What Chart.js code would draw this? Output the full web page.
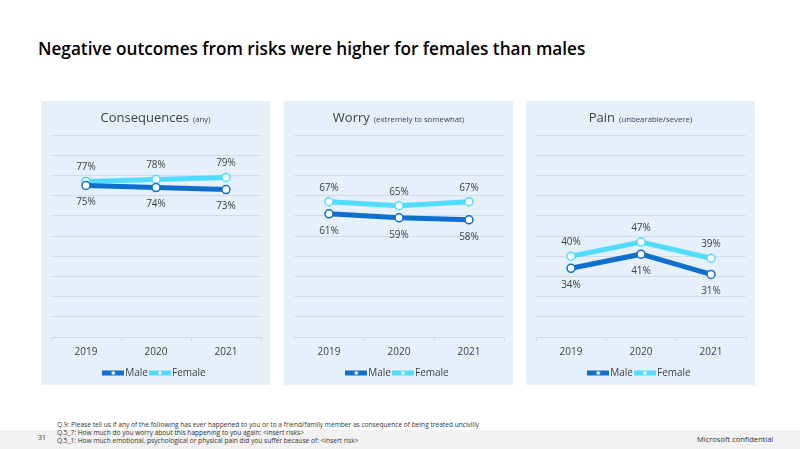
<!DOCTYPE html>
<html>
<head>
<meta charset="utf-8">
<script src="https://cdn.jsdelivr.net/npm/chart.js@4.4.0/dist/chart.umd.min.js"></script>
<style>
    body { margin: 0; width: 800px; height: 449px; position: relative; background: #fff; font-family: "Open Sans", sans-serif; overflow: hidden; }
    .headline { position: absolute; left: 38px; top: 37px; font-size: 17.2px; font-weight: 600; color: #000; }
    .panel { position: absolute; top: 101px; width: 229px; height: 284px; background: #e6f0fa; overflow: hidden; }
    .panel canvas { position: absolute; left: 0; top: 0; }
    .ptitle { position: absolute; left: 0; width: 100%; top: 7px; text-align: center; font-size: 13px; color: #404040; z-index: 2; }
    .ptitle small { font-size: 7.8px; margin-left: 4px; }
    .footband { position: absolute; left: 0; top: 430px; width: 800px; height: 19px; background: #f2f2f2; }
    .notes { position: absolute; left: 57px; top: 421px; font-size: 6.6px; line-height: 8px; color: #333; white-space: nowrap; }
    .pagenum { position: absolute; left: 38px; top: 433px; font-size: 7px; color: #333; }
    .conf { position: absolute; left: 697px; top: 434px; font-size: 7.5px; color: #333; }
</style>
</head>
<body>
<div class="headline">Negative outcomes from risks were higher for females than males</div>

<div class="panel" style="left:41px"><div class="ptitle">Consequences<small>(any)</small></div><canvas id="c1"></canvas></div>
<div class="panel" style="left:284px"><div class="ptitle">Worry<small>(extremely to somewhat)</small></div><canvas id="c2"></canvas></div>
<div class="panel" style="left:526px"><div class="ptitle">Pain<small>(unbearable/severe)</small></div><canvas id="c3"></canvas></div>

<div class="footband"></div>
<div class="notes">Q.9: Please tell us if any of the following has ever happened to you or to a friend/family member as consequence of being treated uncivilly<br>Q.5_7: How much do you worry about this happening to you again: &lt;insert risks&gt;<br>Q.5_1: How much emotional, psychological or physical pain did you suffer because of: &lt;insert risk&gt;</div>
<div class="pagenum">31</div>
<div class="conf">Microsoft confidential</div>

<script>
// Chart data
const years = ['2019', '2020', '2021'];
const consequencesMale = [75, 74, 73];
const consequencesFemale = [77, 78, 79];
const worryMale = [61, 59, 58];
const worryFemale = [67, 65, 67];
const painMale = [34, 41, 31];
const painFemale = [40, 47, 39];

const maleColor = '#0f6fcd';
const femaleColor = '#50dcff';

// legend marker: thick line with a small white dot
function legendMarker(color) {
    const c = document.createElement('canvas');
    c.width = 22; c.height = 10;
    const ctx = c.getContext('2d');
    ctx.strokeStyle = color;
    ctx.lineWidth = 5;
    ctx.beginPath(); ctx.moveTo(0, 5); ctx.lineTo(22, 5); ctx.stroke();
    ctx.fillStyle = '#fff';
    ctx.beginPath(); ctx.arc(11, 5, 1.8, 0, Math.PI * 2); ctx.fill();
    return c;
}

// percent labels: female above, male below
const valueLabels = {
    id: 'valueLabels',
    afterDatasetsDraw(chart) {
        const ctx = chart.ctx;
        ctx.save();
        ctx.font = '10px "Open Sans", sans-serif';
        ctx.fillStyle = '#404040';
        ctx.textAlign = 'center';
        ctx.textBaseline = 'middle';
        chart.data.datasets.forEach(function(ds, i) {
            const meta = chart.getDatasetMeta(i);
            const above = ds.label === 'Female';
            meta.data.forEach(function(pt, j) {
                ctx.fillText(ds.data[j] + '%', pt.x, above ? pt.y - 14 : pt.y + 17);
            });
        });
        ctx.restore();
    }
};

function makeChart(id, male, female) {
    const canvas = document.getElementById(id);
    canvas.width = 229; canvas.height = 287;
    return new Chart(canvas, {
        type: 'line',
        data: {
            labels: years,
            datasets: [
                { label: 'Male', data: male, borderColor: maleColor, backgroundColor: '#fff', borderWidth: 5,
                  pointRadius: 4, pointBorderWidth: 1.5, pointBackgroundColor: '#fff', pointBorderColor: maleColor,
                  pointStyle: 'circle' },
                { label: 'Female', data: female, borderColor: femaleColor, backgroundColor: '#fff', borderWidth: 5,
                  pointRadius: 4, pointBorderWidth: 1.5, pointBackgroundColor: '#fff', pointBorderColor: femaleColor,
                  pointStyle: 'circle' }
            ]
        },
        options: {
            responsive: false,
            animation: false,
            layout: { padding: { left: 10, right: 9, top: 34, bottom: 0 } },
            scales: {
                x: {
                    offset: true,
                    grid: { drawOnChartArea: false, drawTicks: true, tickLength: 4, color: '#d0d7df', offset: true },
                    border: { color: '#d0d7df' },
                    ticks: { color: '#404040', font: { family: 'Open Sans', size: 10 }, padding: 5 }
                },
                y: {
                    min: 0, max: 100,
                    ticks: { display: false, stepSize: 10 },
                    grid: { color: '#d3dbe4', drawTicks: false },
                    border: { display: false }
                }
            },
            plugins: {
                tooltip: { enabled: false },
                legend: {
                    position: 'bottom',
                    labels: {
                        usePointStyle: true,
                        pointStyleWidth: 14,
                        padding: 5,
                        color: '#404040',
                        font: { family: 'Open Sans', size: 10 },
                        generateLabels: function(chart) {
                            return chart.data.datasets.map(function(ds, i) {
                                return { text: ds.label, pointStyle: legendMarker(ds.borderColor), datasetIndex: i,
                                         fontColor: '#404040', lineWidth: 0, strokeStyle: 'transparent', fillStyle: 'transparent' };
                            });
                        }
                    }
                }
            }
        },
        plugins: [valueLabels]
    });
}

makeChart('c1', consequencesMale, consequencesFemale);
makeChart('c2', worryMale, worryFemale);
makeChart('c3', painMale, painFemale);
</script>
</body>
</html>
